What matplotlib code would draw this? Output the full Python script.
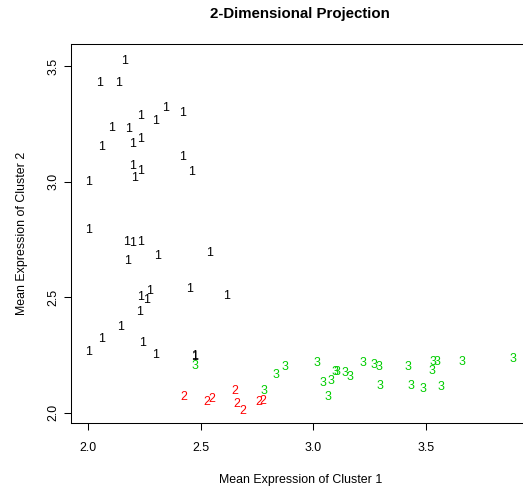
import matplotlib
matplotlib.use("Agg")
import matplotlib.pyplot as plt

plt.rcParams["font.family"] = ["Liberation Sans", "DejaVu Sans"]

# cluster 1 (black labels "1")
x1 = [2.160, 2.052, 2.135, 2.342, 2.420, 2.230, 2.301, 2.104, 2.178, 2.058,
      2.197, 2.230, 2.420, 2.197, 2.233, 2.461, 2.206, 1.999, 2.000, 2.171,
      2.197, 2.230, 2.173, 2.307, 2.538, 2.230, 2.260, 2.274, 2.449, 2.615,
      2.227, 2.144, 2.060, 2.000, 2.239, 2.298, 2.473, 2.473]
y1 = [3.524, 3.426, 3.426, 3.320, 3.296, 3.283, 3.263, 3.234, 3.229, 3.149,
      3.162, 3.184, 3.108, 3.069, 3.046, 3.041, 3.015, 2.997, 2.790, 2.740,
      2.733, 2.740, 2.658, 2.680, 2.690, 2.502, 2.488, 2.526, 2.534, 2.506,
      2.437, 2.370, 2.318, 2.264, 2.300, 2.250, 2.247, 2.242]

# cluster 2 (red labels "2")
x2 = [2.425, 2.526, 2.548, 2.649, 2.662, 2.686, 2.756, 2.775]
y2 = [2.067, 2.048, 2.059, 2.095, 2.038, 2.009, 2.045, 2.051]

# cluster 3 (green labels "3")
x3 = [2.474, 2.782, 2.833, 2.874, 3.015, 3.044, 3.079, 3.096, 3.107, 3.064,
      3.141, 3.164, 3.220, 3.270, 3.293, 3.296, 3.421, 3.433, 3.489, 3.533,
      3.548, 3.529, 3.566, 3.660, 3.886]
y3 = [2.202, 2.095, 2.162, 2.197, 2.214, 2.127, 2.139, 2.177, 2.177, 2.067,
      2.171, 2.153, 2.216, 2.205, 2.199, 2.117, 2.197, 2.117, 2.101, 2.219,
      2.219, 2.182, 2.110, 2.221, 2.232]

clusters = [("1", x1, y1, "black"), ("2", x2, y2, "#FF0000"), ("3", x3, y3, "#00CD00")]

fig = plt.figure(figsize=(5.23, 4.90), dpi=100)
ax = fig.add_axes([0.1358, 0.1373, 0.8766, 0.7729])

for lab, xs, ys, col in clusters:
    for x, y in zip(xs, ys):
        ax.text(x, y, lab, color=col, fontsize=8.9, ha="center", va="center")

ax.set_xlim(1.923, 3.961)
ax.set_ylim(1.957, 3.596)
ax.set_xticks([2.0, 2.5, 3.0, 3.5])
ax.set_yticks([2.0, 2.5, 3.0, 3.5])
ax.tick_params(axis="both", labelsize=8.9, length=5, width=0.75, direction="out")
ax.tick_params(axis="x", pad=9)
ax.tick_params(axis="y", pad=3.5)
for lbl in ax.get_yticklabels():
    lbl.set_rotation(90)
    lbl.set_va("center")
for s in ax.spines.values():
    s.set_linewidth(0.75)

ax.set_xlabel("Mean Expression of Cluster 1", fontsize=8.9, labelpad=14)
ax.set_ylabel("Mean Expression of Cluster 2", fontsize=8.9, labelpad=14)
fig.text(0.574, 0.971, "2-Dimensional Projection", fontsize=10.8,
         fontweight="bold", ha="center", va="center")

fig.savefig("out.png", dpi=100)
